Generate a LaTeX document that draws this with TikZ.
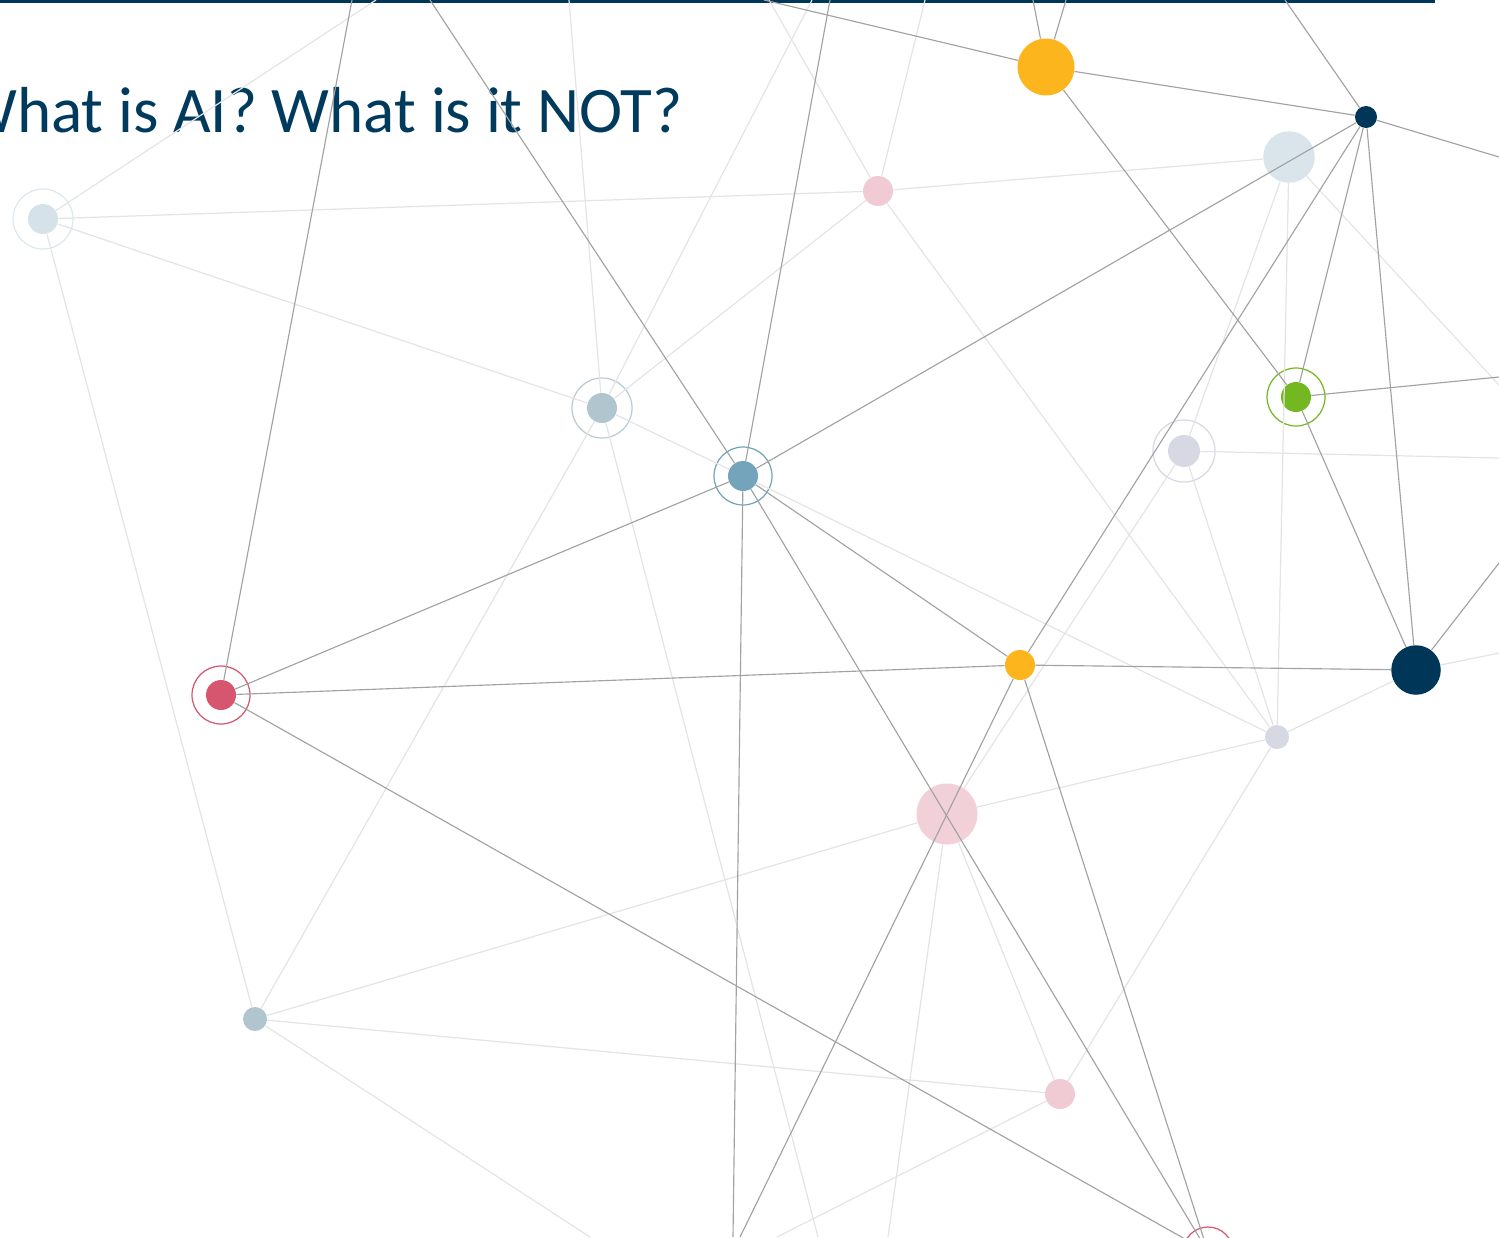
\documentclass[tikz,border=0pt]{standalone}
\usepackage{fontspec}
\setmainfont{Carlito}
\usepackage{tikz}

\definecolor{navy}{HTML}{003658}
\definecolor{titleblue}{HTML}{003A5C}
\definecolor{amber}{HTML}{FDB51E}
\definecolor{mist}{HTML}{D5E2E9}
\definecolor{slate}{HTML}{B1C5CF}
\definecolor{steel}{HTML}{73A4BB}
\definecolor{leaf}{HTML}{74B821}
\definecolor{lilac}{HTML}{D6D8E4}
\definecolor{rose}{HTML}{D5566E}
\definecolor{blush}{HTML}{F0CBD4}
\definecolor{linkdark}{HTML}{A2A2A2}
\definecolor{linklight}{HTML}{E4E4E4}

\tikzset{
  dot/.style={circle, inner sep=0pt, minimum size=#1},
  halo/.style={line width=0.7pt},
  link/.style={draw=linkdark, line width=0.65pt},
  faint/.style={draw=linklight, line width=0.7pt}
}

\begin{document}
\begin{tikzpicture}[x=0.2mm, y=-0.2mm]

   \useasboundingbox (0,0) rectangle (1499,1237);
   \clip (0,0) rectangle (1499,1237);

   % title and bar
   \fill[navy] (0,0) rectangle (1435,3);
   \node[anchor=base east, inner sep=0pt, text=titleblue,
         font=\fontsize{37}{44}\selectfont] (title) at (683,132) {What is AI? What is it NOT?};

   % the dots
   \node[dot=6mm, fill=mist] (n1) at (43,219) {};
   \node[dot=6mm, fill=blush] (n2) at (878,191) {};
   \node[dot=11.4mm, fill=amber] (n3) at (1046,67) {};
   \node[dot=4.4mm, fill=navy] (n4) at (1366,117) {};
   \node[dot=10.3mm, fill=mist, fill opacity=0.9] (n5) at (1289,157) {};
   \node[dot=6mm, fill=slate] (n6) at (602,408) {};
   \node[dot=6mm, fill=steel] (n7) at (743,476) {};
   \node[dot=6mm, fill=leaf] (n8) at (1296,397) {};
   \node[dot=6.4mm, fill=lilac] (n9) at (1184,451) {};
   \node[dot=6mm, fill=amber] (n10) at (1020,665) {};
   \node[dot=9.9mm, fill=navy] (n11) at (1416,670) {};
   \node[dot=4.8mm, fill=lilac] (n12) at (1277,737) {};
   \node[dot=6mm, fill=rose] (n13) at (221,695) {};
   \node[dot=12.2mm, fill=blush, fill opacity=0.9] (n14) at (947,814) {};
   \node[dot=4.8mm, fill=slate] (n15) at (255,1019) {};
   \node[dot=6mm, fill=blush] (n16) at (1060,1094) {};
   \node[dot=5.6mm, fill=rose] (n17) at (1208,1252) {};

   % rings
   \draw[halo, draw=mist!80!white] (n1) circle (6mm);
   \draw[halo, draw=slate!90!white] (n6) circle (6mm);
   \draw[halo, draw=steel] (n7) circle (5.8mm);
   \draw[halo, draw=leaf] (n8) circle (5.8mm);
   \draw[halo, draw=lilac] (n9) circle (6.2mm);
   \draw[halo, draw=rose] (n13) circle (5.8mm);
   \draw[halo, draw=rose] (n17) circle (5mm);

   % loose ends on the frame
   \coordinate (top1) at (352,0);
   \coordinate (top2) at (376,0);
   \coordinate (top3) at (430,0);
   \coordinate (top4) at (569,0);
   \coordinate (top5) at (764,0);
   \coordinate (top6) at (769,0);
   \coordinate (top7) at (812,0);
   \coordinate (top8) at (830,0);
   \coordinate (top9) at (925,0);
   \coordinate (top10) at (1033,0);
   \coordinate (top11) at (1066,0);
   \coordinate (top12) at (1285,0);
   \coordinate (right1) at (1499,157);
   \coordinate (right2) at (1499,377);
   \coordinate (right3) at (1499,385);
   \coordinate (right4) at (1499,458);
   \coordinate (right5) at (1499,563);
   \coordinate (right6) at (1499,653);
   \coordinate (bottom1) at (590,1237);
   \coordinate (bottom2) at (733,1237);
   \coordinate (bottom3) at (740,1237);
   \coordinate (bottom4) at (777,1237);
   \coordinate (bottom5) at (818,1237);
   \coordinate (bottom6) at (888,1237);

   % pale links
   \draw[faint] (top2) -- (n1);
   \draw[faint] (n1) -- (n2);
   \draw[faint] (n2) -- (n5);
   \draw[faint] (n1) -- (n6);
   \draw[faint] (n1) -- (n15);
   \draw[faint] (top4) -- (n6);
   \draw[faint] (top7) -- (n6);
   \draw[faint] (n6) -- (n2);
   \draw[faint] (n6) -- (n7);
   \draw[faint] (n6) -- (n15);
   \draw[faint] (n6) -- (bottom5);
   \draw[faint] (top9) -- (n2);
   \draw[faint] (top6) -- (n2);
   \draw[faint] (n2) -- (n12);
   \draw[faint] (n5) -- (n9);
   \draw[faint] (n9) -- (n14);
   \draw[faint] (n5) -- (n12);
   \draw[faint] (n5) -- (right3);
   \draw[faint] (n9) -- (right4);
   \draw[faint] (n9) -- (n12);
   \draw[faint] (n7) -- (n12);
   \draw[faint] (n12) -- (n11);
   \draw[faint] (n11) -- (right6);
   \draw[faint] (n15) -- (n14);
   \draw[faint] (n14) -- (n12);
   \draw[faint] (n15) -- (n16);
   \draw[faint] (n15) -- (bottom1);
   \draw[faint] (n16) -- (n12);
   \draw[faint] (n16) -- (n14);
   \draw[faint] (n16) -- (bottom4);
   \draw[faint] (n14) -- (bottom6);

   % dark links
   \draw[link] (top1) -- (n13);
   \draw[link] (top3) -- (n7);
   \draw[link] (top8) -- (n7);
   \draw[link] (n7) -- (bottom2);
   \draw[link] (n7) -- (n4);
   \draw[link] (n7) -- (n13);
   \draw[link] (n7) -- (n10);
   \draw[link] (n7) -- (n17);
   \draw[link] (n13) -- (n10);
   \draw[link] (n10) -- (n11);
   \draw[link] (n13) -- (n17);
   \draw[link] (n10) -- (n17);
   \draw[link] (n10) -- (n4);
   \draw[link] (n10) -- (bottom3);
   \draw[link] (top5) -- (n3);
   \draw[link] (n3) -- (n4);
   \draw[link] (n4) -- (right1);
   \draw[link] (top10) -- (n3);
   \draw[link] (top11) -- (n3);
   \draw[link] (n3) -- (n8);
   \draw[link] (top12) -- (n4);
   \draw[link] (n4) -- (n8);
   \draw[link] (n4) -- (n11);
   \draw[link] (n8) -- (n11);
   \draw[link] (n8) -- (right2);
   \draw[link] (n11) -- (right5);

\end{tikzpicture}
\end{document}
